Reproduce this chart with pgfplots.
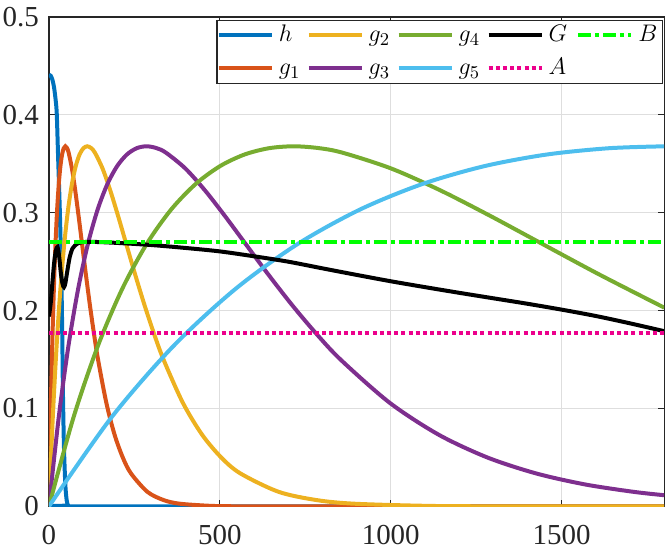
\documentclass[border=0pt]{standalone}
\usepackage{fontspec}
\setmainfont{Liberation Serif}
\usepackage{pgfplots}
\pgfplotsset{compat=1.18}
\definecolor{ch}{rgb}{0,0.447,0.741}
\definecolor{cga}{rgb}{0.85,0.325,0.098}
\definecolor{cgb}{rgb}{0.929,0.694,0.125}
\definecolor{cgc}{rgb}{0.494,0.184,0.556}
\definecolor{cgd}{rgb}{0.466,0.674,0.188}
\definecolor{cge}{rgb}{0.301,0.745,0.933}
\definecolor{axcol}{rgb}{0.15,0.15,0.15}
\begin{document}
\begin{tikzpicture}
\begin{axis}[name=ax, scale only axis, width=308pt, height=245pt,
  xmin=0, xmax=1800, ymin=0, ymax=0.5,
  xtick={0,500,1000,1500}, xticklabels={0,500,1000,1500},
  ytick={0,0.1,0.2,0.3,0.4,0.5}, yticklabels={0,0.1,0.2,0.3,0.4,0.5},
  tick align=inside, tick pos=both, major tick length=3pt,
  grid=major, major grid style={black!13, line width=0.5pt},
  axis line style={axcol, line width=0.6pt},
  tick style={axcol, line width=0.6pt},
  ticklabel style={font=\fontsize{14.5}{16}\selectfont, text=black!85},
  xticklabel style={yshift=-6pt},
  yticklabel style={xshift=-1.5pt},
  clip=true,
  legend columns=2, transpose legend,
  legend cell align=left,
  legend image code/.code={\draw[#1] (0pt,0pt) -- (26.5pt,0pt);},
  legend style={at={(0.998,0.994)}, anchor=north east, draw=axcol, line width=0.6pt,
    fill=white, inner sep=0pt, row sep=1.5pt,
    font=\fontsize{13}{14}\selectfont,
    nodes={inner sep=1.5pt, text width=10.5pt, align=left, text height=9pt, text depth=3pt},
    /tikz/every odd column/.append style={column sep=1pt},
    /tikz/every even column/.append style={column sep=2pt}},
  every axis plot/.append style={line width=2pt},
]
% h
\addplot[ch, smooth] coordinates {(0,0.441) (5,0.440) (10,0.436) (15,0.428) (20,0.414) (23,0.400) (27,0.355) (32,0.300) (36,0.240) (39,0.175) (41,0.115) (44,0.060) (48,0.022) (52,0.006) (56,0.001) (60,0) (1800,0)};
\addlegendentry{$h$}
% g1 tau=48
\addplot[cga, smooth] coordinates {(0,0) (4.8,0.09048) (9.6,0.16375) (14.4,0.22225) (19.2,0.26813) (24,0.30327) (28.8,0.32929) (33.6,0.34761) (38.4,0.35946) (43.2,0.36591) (48,0.36788) (52.8,0.36616) (57.6,0.36143) (67.2,0.34524) (76.8,0.32304) (86.4,0.29754) (96,0.27067) (108,0.23715) (120,0.20521) (132,0.17580) (144,0.14936) (168,0.10569) (192,0.07326) (216,0.04999) (240,0.03369) (288,0.01487) (336,0.00638) (384,0.00268) (480,0.00045) (576,0.00007) (720,0) (1800,0)};
\addlegendentry{$g_1$}
% g2 tau=112
\addplot[cgb, smooth] coordinates {(0,0) (11.2,0.09048) (22.4,0.16375) (33.6,0.22225) (44.8,0.26813) (56,0.30327) (67.2,0.32929) (78.4,0.34761) (89.6,0.35946) (100.8,0.36591) (112,0.36788) (123.2,0.36616) (134.4,0.36143) (156.8,0.34524) (179.2,0.32304) (201.6,0.29754) (224,0.27067) (252,0.23715) (280,0.20521) (308,0.17580) (336,0.14936) (392,0.10569) (448,0.07326) (504,0.04999) (560,0.03369) (672,0.01487) (784,0.00638) (896,0.00268) (1120,0.00045) (1344,0.00007) (1800,0)};
\addlegendentry{$g_2$}
% g3 tau=285
\addplot[cgc, smooth] coordinates {(0,0) (28.5,0.09048) (57,0.16375) (85.5,0.22225) (114,0.26813) (142.5,0.30327) (171,0.32929) (199.5,0.34761) (228,0.35946) (256.5,0.36591) (285,0.36788) (313.5,0.36616) (342,0.36143) (399,0.34524) (456,0.32304) (513,0.29754) (570,0.27067) (641.25,0.23715) (712.5,0.20521) (783.75,0.17580) (855,0.14936) (997.5,0.10569) (1140,0.07326) (1282.5,0.04999) (1425,0.03369) (1567.5,0.02248) (1710,0.01487) (1800,0.01141)};
\addlegendentry{$g_3$}
% g4 tau=715
\addplot[cgd, smooth] coordinates {(0,0) (71.5,0.09048) (143,0.16375) (214.5,0.22225) (286,0.26813) (357.5,0.30327) (429,0.32929) (500.5,0.34761) (572,0.35946) (643.5,0.36591) (715,0.36788) (786.5,0.36616) (858,0.36143) (1001,0.34524) (1144,0.32304) (1287,0.29754) (1430,0.27067) (1608.75,0.23715) (1800,0.20306)};
\addlegendentry{$g_4$}
% g5 tau=1820
\addplot[cge, smooth] coordinates {(0,0) (182,0.09048) (364,0.16375) (546,0.22225) (728,0.26813) (910,0.30327) (1092,0.32929) (1274,0.34761) (1456,0.35946) (1638,0.36591) (1800,0.36786)};
\addlegendentry{$g_5$}
% G
\addplot[black, smooth] coordinates {(0,0.194) (5,0.207) (10,0.228) (15,0.248) (20,0.261) (25,0.265) (30,0.255) (35,0.238) (40,0.227) (44,0.224) (48,0.228) (54,0.241) (61,0.255) (70,0.264) (86,0.269) (110,0.2702) (150,0.270) (208,0.269) (300,0.267) (400,0.264) (500,0.2605) (600,0.2555) (700,0.2500) (800,0.2432) (900,0.2365) (1000,0.2300) (1100,0.2240) (1200,0.2182) (1300,0.2126) (1400,0.2070) (1500,0.2010) (1600,0.1945) (1700,0.1870) (1800,0.1790)};
\addlegendentry{$G$}
% A
\addplot[magenta, dash pattern=on 2pt off 1.6pt] coordinates {(0,0.177) (1800,0.177)};
\addlegendentry{$A$}
% B
\addplot[green, dash pattern=on 6.5pt off 2pt on 2pt off 2pt] coordinates {(0,0.270) (1800,0.270)};
\addlegendentry{$B$}
\end{axis}
\pgfresetboundingbox
\path[use as bounding box] ([shift={(-24.5pt,-24pt)}]ax.south west) rectangle ([shift={(0.4pt,8.5pt)}]ax.north east);
\end{tikzpicture}
\end{document}
